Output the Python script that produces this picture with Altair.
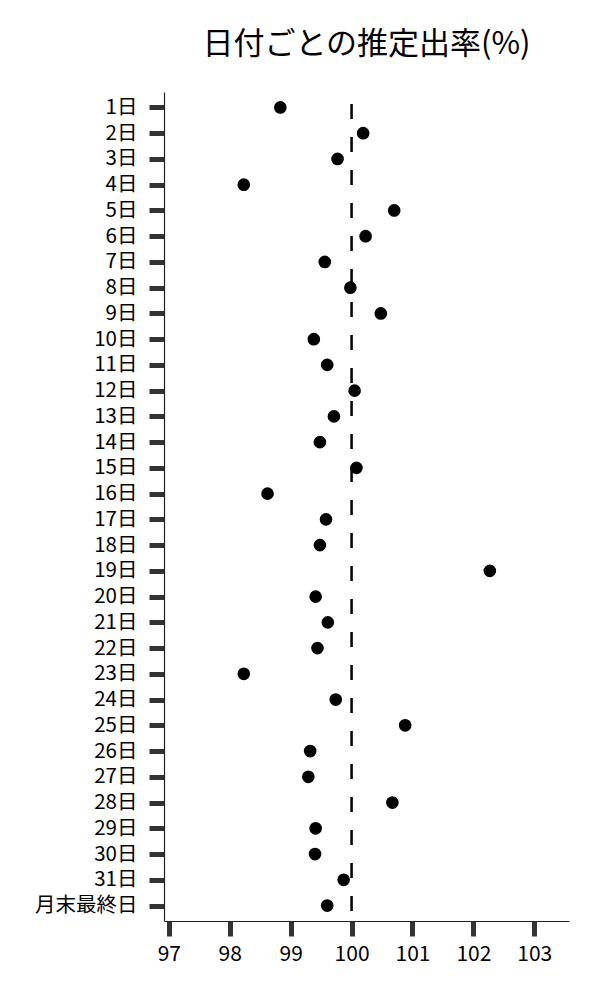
import altair as alt
import pandas as pd

days = [f"{i}日" for i in range(1, 32)] + ["月末最終日"]
rates = [98.83, 100.19, 99.77, 98.23, 100.70, 100.23, 99.56, 99.98, 100.48, 99.38,
         99.60, 100.05, 99.71, 99.48, 100.08, 98.62, 99.58, 99.48, 102.27, 99.41,
         99.61, 99.44, 98.23, 99.74, 100.88, 99.32, 99.29, 100.67, 99.41, 99.40,
         99.87, 99.60]
ref_value = [100]
x_ticks = [97, 98, 99, 100, 101, 102, 103]

df = pd.DataFrame({"day": days, "rate": rates})
ref = pd.DataFrame({"x": ref_value})

FONT = "Noto Sans CJK JP"

x_scale = alt.Scale(domain=[96.92, 103.57], nice=False, zero=False)

points = alt.Chart(df).mark_circle(size=160, color="black", opacity=1).encode(
    x=alt.X("rate:Q", scale=x_scale,
            axis=alt.Axis(values=x_ticks, format="d", title=None, grid=False,
                          tickSize=15, tickWidth=5, tickColor="#333333",
                          domainColor="#222222", domainWidth=1.2,
                          labelFontSize=21, labelFont=FONT, labelColor="black",
                          labelPadding=7)),
    y=alt.Y("day:N", sort=days,
            scale=alt.Scale(type="point", padding=0.6),
            axis=alt.Axis(title=None, grid=False,
                          tickSize=15, tickWidth=5, tickColor="#333333",
                          domainColor="#222222", domainWidth=1.2,
                          labelFontSize=20.5, labelFont=FONT, labelColor="black",
                          labelPadding=12)),
)

rule = alt.Chart(ref).mark_rule(color="black", strokeWidth=2.5, strokeDash=[15, 18],
                                strokeDashOffset=21).encode(
    x=alt.X("x:Q", scale=x_scale)
)

chart = alt.layer(rule, points).properties(
    width=405,
    height=829,
    autosize=alt.AutoSizeParams(type="none"),
    padding={"left": 156, "top": 84, "right": 20, "bottom": 60},
    title=alt.TitleParams("日付ごとの推定出率(%)", font=FONT, fontSize=31,
                          fontWeight="normal", color="black", anchor="middle",
                          offset=30),
).configure_view(stroke=None)

chart.save("out.html", embed_options={"renderer": "svg", "actions": False})
